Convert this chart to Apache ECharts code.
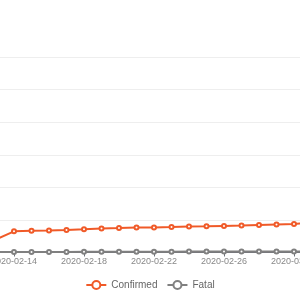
<!DOCTYPE html>
<html>
<head>
<meta charset="utf-8">
<script src="https://cdn.jsdelivr.net/npm/echarts@6/dist/echarts.min.js"></script>
<style>html,body{margin:0;padding:0;background:#fff}#c{width:300px;height:300px}</style>
</head>
<body>
<div id="c"></div>
<script>
const dates = ['2020-02-13','2020-02-14','2020-02-15','2020-02-16','2020-02-17','2020-02-18','2020-02-19','2020-02-20','2020-02-21','2020-02-22','2020-02-23','2020-02-24','2020-02-25','2020-02-26','2020-02-27','2020-02-28','2020-02-29','2020-03-01','2020-03-02'];
const confirmed = [41000,65000,66600,67500,69000,71200,74000,75200,76700,77000,78300,80100,80700,81600,82600,84400,86200,87500,91500];
const fatal = [1370,1520,1670,1770,1870,2010,2130,2250,2260,2470,2630,2710,2770,2810,2860,2940,2990,3090,3160];
const yTicks = {min:0, max:600000, interval:100000};

const chart = echarts.init(document.getElementById('c'));
chart.setOption({
  animation:false,
  grid:{left:-3.5, right:-11.5, top:57, bottom:47.5, containLabel:false, outerBoundsMode:'none'},
  legend:{
    bottom:5, left:'center', itemWidth:20, itemHeight:10, itemGap:9,
    textStyle:{fontSize:10, color:'#666', fontFamily:'sans-serif'},
    data:['Confirmed','Fatal']
  },
  xAxis:{
    type:'category', data:dates, boundaryGap:false,
    axisLine:{lineStyle:{color:'#6e7079'}},
    axisTick:{interval:(i)=> (i-1)%4===0, length:4, lineStyle:{color:'#6e7079'}},
    axisLabel:{interval:(i)=> (i-1)%4===0, fontSize:9, color:'#888', margin:5, fontFamily:'sans-serif'}
  },
  yAxis:{
    type:'value', min:yTicks.min, max:yTicks.max, interval:yTicks.interval,
    axisLabel:{show:false},
    axisLine:{show:false}, axisTick:{show:false},
    splitLine:{lineStyle:{color:'#eeeeee'}}
  },
  series:[
    {name:'Confirmed', type:'line', data:confirmed, symbol:'emptyCircle', symbolSize:4,
     itemStyle:{color:'#f05a28'}, lineStyle:{width:2, color:'#f05a28'}},
    {name:'Fatal', type:'line', data:fatal, symbol:'emptyCircle', symbolSize:4,
     itemStyle:{color:'#808080'}, lineStyle:{width:2, color:'#808080'}}
  ]
});
</script>
</body>
</html>
